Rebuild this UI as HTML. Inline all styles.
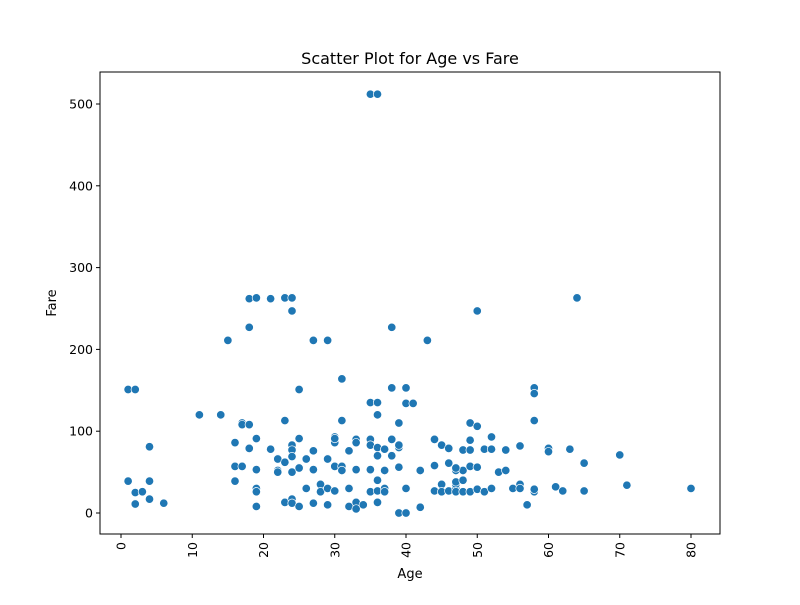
<!DOCTYPE html>
<html><head><meta charset="utf-8"><style>
body{margin:0;background:#fff;font-family:"Liberation Sans","DejaVu Sans",sans-serif;}
svg text{font-family:"DejaVu Sans","Liberation Sans",sans-serif;fill:#000;}
</style></head><body>
<svg id="chart" width="800" height="600">
<rect width="800" height="600" fill="#fff"/>
<text x="410" y="64" font-size="16" text-anchor="middle">Scatter Plot for Age vs Fare</text>
<text x="410" y="578" font-size="13" text-anchor="middle">Age</text>
<text x="0" y="0" font-size="13" text-anchor="middle" transform="translate(56,303) rotate(-90)">Fare</text>
<g id="marks"></g>
<g id="axes"></g>
</svg>
<script>
const ages = [35,36,64,18,19,21,23,24,24,50,38,18,15,27,29,43,31,1,2,25,38,40,58,58,35,36,40,41,11,14,36,17,17,18,23,31,39,49,50,58,4,19,25,30,33,35,38,44,52,16,24,30,33,35,36,39,39,45,49,46,56,60,60,63,48,49,51,52,54,21,18,24,27,32,37,22,23,24,26,16,17,19,22,22,24,25,27,30,31,31,33,35,39,42,44,46,47,48,49,50,53,54,65,70,29,36,37,38,47,1,4,2,3,4,2,6,16,19,19,19,23,24,24,25,26,27,28,28,29,30,29,32,32,33,33,34,35,36,36,36,37,37,39,40,40,42,44,45,45,46,47,47,47,48,47,48,49,50,51,52,55,56,56,57,58,58,61,62,65,71,80,30];
const fares = [512,512,263,262,263,262,263,263,247,247,227,227,211,211,211,211,164,151,151,151,153,153,153,146,135,135,134,134,120,120,120,110,108,108,113,113,110,110,106,113,81,91,91,93,90,90,90,90,93,86,83,86,86,83,80,80,83,83,89,79,82,79,75,78,77,77,78,78,77,78,79,77,76,76,78,66,62,69,66,57,57,53,52,50,50,55,53,57,57,52,53,53,56,52,58,61,52,52,57,56,50,52,61,71,66,70,52,70,55,39,39,25,26,17,11,12,39,30,26,8,13,17,12,8,30,12,35,26,30,27,10,30,8,13,5,10,26,27,13,40,30,26,0,0,30,7,27,35,26,27,30,35,38,40,26,26,26,29,26,30,30,35,30,10,26,29,32,27,27,34,30,91];
const xTicks = [0,10,20,30,40,50,60,70,80];
const yTicks = [0,100,200,300,400,500];
const L=100,R=720,T=72,B=534;
const xs = v => 121 + v*7.125;
const ys = v => 513 - v*0.818;
const NS="http://www.w3.org/2000/svg";
const marks=document.getElementById('marks'), axes=document.getElementById('axes');
function mk(tag,attrs,parent){const e=document.createElementNS(NS,tag);for(const k in attrs)e.setAttribute(k,attrs[k]);parent.appendChild(e);return e;}
ages.forEach((a,i)=>{
  const c=mk('circle',{cx:xs(a),cy:ys(fares[i]),r:4.2,fill:'#1f77b4',stroke:'#fff','stroke-width':0.7},marks);
  
  
});
const frame=mk('rect',{x:L,y:T,width:R-L,height:B-T,fill:'none',stroke:'#000','stroke-width':1},axes);


xTicks.forEach(t=>{
  const x=xs(t);
  mk('line',{x1:x,x2:x,y1:B,y2:B+4,stroke:'#000'},axes);
  const tx=mk('text',{x:0,y:0,'font-size':12.5,'text-anchor':'end',transform:`translate(${x+4.5},${B+8}) rotate(-90)`},axes);
  tx.textContent=t;
  
  
});
yTicks.forEach(t=>{
  const y=ys(t);
  mk('line',{x1:L-4,x2:L,y1:y,y2:y,stroke:'#000'},axes);
  const tx=mk('text',{x:L-7,y:y+4.5,'font-size':12.5,'text-anchor':'end'},axes);
  tx.textContent=t;
  
  
});
</script>
</body></html>
